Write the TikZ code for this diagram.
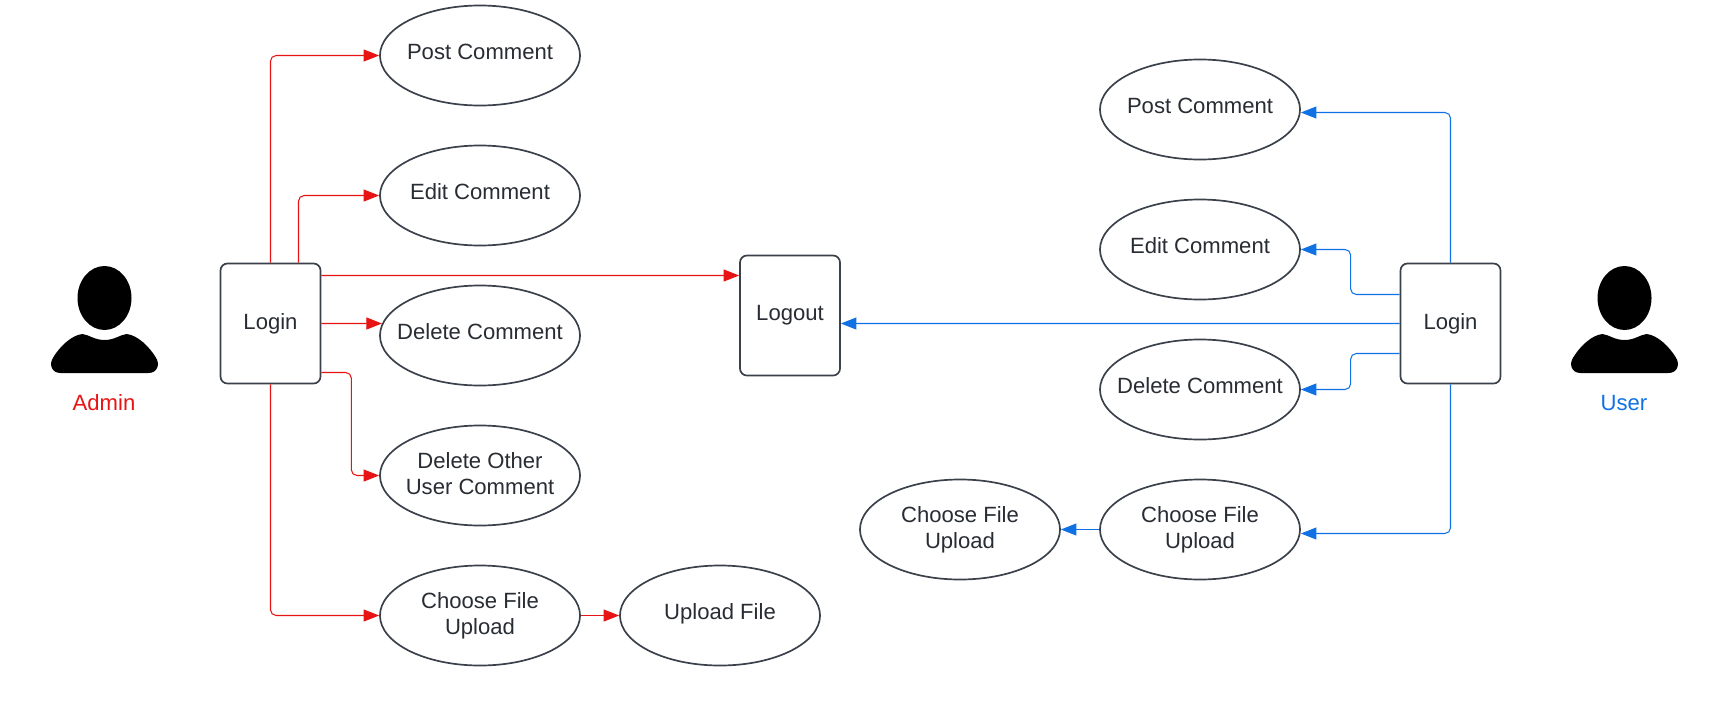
\documentclass[tikz,border=0pt]{standalone}
\usepackage{fontspec}
\setmainfont{Liberation Sans}
\usetikzlibrary{arrows.meta,shapes.geometric}
\definecolor{outlinegray}{HTML}{3A414A}
\definecolor{textgray}{HTML}{282C33}
\definecolor{adminred}{HTML}{E81313}
\definecolor{userblue}{HTML}{1071E5}
\tikzset{
  usecase/.style={ellipse, draw=outlinegray, line width=1.2pt, text=textgray, align=center,
    minimum width=5cm, minimum height=2.5cm, inner xsep=-1cm, inner ysep=-0.4cm, text depth=5pt},
  twolines/.style={text depth=2.8pt},
  actionbox/.style={rectangle, draw=outlinegray, line width=1.2pt, rounded corners=5pt, text=textgray,
    minimum width=2.5cm, minimum height=3cm, inner sep=0pt, text depth=3pt},
  flowred/.style={adminred, line width=0.75pt, rounded corners=4pt, -{Triangle[length=11pt,width=8.5pt]}},
  flowblue/.style={userblue, line width=0.75pt, rounded corners=4pt, -{Triangle[length=11pt,width=8.5pt]}},
  personicon/.pic={
    \fill[black] (0,298) ellipse [x radius=27, y radius=32];
    \fill[black] (-44,373) .. controls (-53,373) and (-56,364) .. (-51,357)
      .. controls (-45,347) and (-33,335) .. (-22,334)
      .. controls (-15,335) and (-10,340) .. (0,340)
      .. controls (10,340) and (15,335) .. (22,334)
      .. controls (33,335) and (45,347) .. (51,357)
      .. controls (56,364) and (53,373) .. (44,373) -- cycle;
  }
}
\begin{document}
\begin{tikzpicture}[x=0.025cm, y=-0.025cm, font=\fontsize{15.7}{18.9}\selectfont]
  \useasboundingbox (0,0) rectangle (1728,705);
  \pic at (104.5,0) {personicon};
  \pic at (1624.5,0) {personicon};
  \node[adminred] (adminlabel) at (104,403) {Admin};
  \node[userblue] (userlabel) at (1624,403) {User};

  \node[actionbox] (adminlogin) at (270.5,323.5) {Login};
  \node[actionbox] (logout) at (790,315.5) {Logout};
  \node[actionbox] (userlogin) at (1450.5,323.5) {Login};

  \node[usecase] (postadmin) at (480,55.5) {Post Comment};
  \node[usecase] (editadmin) at (480,195.5) {Edit Comment};
  \node[usecase] (deleteadmin) at (480,335.5) {Delete Comment};
  \node[usecase, twolines] (deleteother) at (480,475.5) {Delete Other\\User Comment};
  \node[usecase, twolines] (chooseadmin) at (480,615.5) {Choose File\\Upload};
  \node[usecase] (uploadfile) at (720,615.5) {Upload File};

  \node[usecase] (postuser) at (1200,109.5) {Post Comment};
  \node[usecase] (edituser) at (1200,249.5) {Edit Comment};
  \node[usecase] (deleteuser) at (1200,389.5) {Delete Comment};
  \node[usecase, twolines] (chooseuser) at (1200,529.5) {Choose File\\Upload};
  \node[usecase, twolines] (chooseupload) at (960,529.5) {Choose File\\Upload};

  \draw[flowred] (adminlogin.north) |- (postadmin.west);
  \draw[flowred] ([xshift=0.7cm]adminlogin.north) |- (editadmin.west);
  \draw[flowred] ([yshift=1.2cm]adminlogin.east) -- ([yshift=1cm]logout.west);
  \draw[flowred] (adminlogin.east) -- ([xshift=0.07cm,yshift=0.3cm]deleteadmin.west);
  \draw[flowred] ([yshift=-1.225cm]adminlogin.east) -- ++(30,0) |- (deleteother.west);
  \draw[flowred] (adminlogin.south) |- (chooseadmin.west);
  \draw[flowred] (chooseadmin.east) -- (uploadfile.west);

  \draw[flowblue] (userlogin.north) |- ([yshift=-0.075cm]postuser.east);
  \draw[flowblue] ([yshift=0.725cm]userlogin.west) -- ++(-49,0) |- (edituser.east);
  \draw[flowblue] (userlogin.west) -- ([yshift=-0.2cm]logout.east);
  \draw[flowblue] ([yshift=-0.75cm]userlogin.west) -- ++(-49,0) |- (deleteuser.east);
  \draw[flowblue] (userlogin.south) |- ([yshift=-0.1cm]chooseuser.east);
  \draw[flowblue] (chooseuser.west) -- (chooseupload.east);
\end{tikzpicture}
\end{document}
